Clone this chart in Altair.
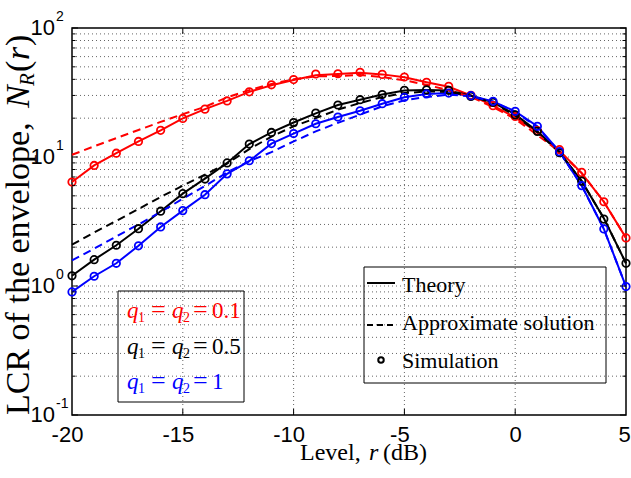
import altair as alt
import pandas as pd

# ---------------- data ----------------
levels = list(range(-20, 6))  # Level r (dB)

red_theory = [6.4, 8.6, 10.7, 13.2, 16.1, 19.9, 23.5, 27.2, 32.0, 36.0, 39.5, 43.0, 44.0,
              45.0, 43.7, 41.5, 38.0, 35.0, 30.0, 25.0, 20.3, 15.6, 11.2, 7.5, 4.5, 2.36]
red_approx = [10.4, 12.1, 14.0, 16.2, 18.7, 21.5, 24.5, 29.0, 33.0, 36.8, 40.0, 42.2, 42.5,
              43.2, 41.7, 39.3, 36.3, 32.9, 29.2, 24.4, 19.7, 14.8, 11.0, 7.5, 4.5, 2.36]
red_sim = [6.4, 8.6, 10.7, 13.2, 16.1, 19.9, 23.5, 27.2, 32.0, 36.3, 39.8, 44.0, 44.2,
           45.3, 43.7, 41.7, 37.9, 35.3, 30.1, 25.0, 20.6, 16.0, 11.4, 7.6, 4.5, 2.36]

black_theory = [1.2, 1.6, 2.07, 2.78, 3.8, 5.2, 6.8, 9.0, 12.6, 15.5, 18.5, 21.8, 25.3,
                27.8, 30.5, 32.8, 33.1, 32.8, 29.8, 26.5, 21.4, 15.8, 10.9, 6.5, 3.35, 1.5]
black_approx = [2.09, 2.6, 3.2, 3.95, 4.9, 6.0, 7.3, 8.9, 11.5, 14.4, 17.3, 20.0, 23.3,
                26.2, 29.2, 31.3, 32.2, 32.0, 29.8, 26.2, 21.0, 15.5, 10.9, 6.5, 3.35, 1.5]
black_sim = [1.2, 1.6, 2.07, 2.78, 3.8, 5.2, 6.75, 9.0, 12.6, 15.5, 18.5, 21.9, 25.3,
             27.8, 30.5, 32.9, 33.2, 32.9, 29.5, 26.5, 21.2, 15.8, 10.8, 6.5, 3.3, 1.5]

blue_theory = [0.9, 1.19, 1.5, 2.05, 2.87, 3.84, 5.1, 7.4, 9.3, 12.7, 15.2, 18.1, 20.4,
               22.8, 25.9, 29.0, 30.8, 31.3, 29.9, 27.0, 22.6, 17.3, 11.0, 6.0, 2.77, 0.99]
blue_approx = [1.58, 1.95, 2.42, 3.0, 3.75, 4.75, 5.95, 7.6, 9.3, 10.9, 13.2, 15.8, 18.4,
               21.3, 24.7, 27.5, 29.2, 30.4, 29.6, 26.8, 22.4, 17.0, 11.0, 6.0, 2.77, 0.99]
blue_sim = [0.9, 1.19, 1.5, 2.05, 2.87, 3.84, 5.1, 7.4, 9.35, 12.7, 15.2, 18.1, 20.4,
            22.8, 25.9, 29.0, 30.8, 31.3, 29.9, 27.0, 22.6, 17.3, 11.0, 6.0, 2.77, 0.99]

series_names = ["q1=q2=0.1", "q1=q2=0.5", "q1=q2=1"]
series_colors = ["#ff0000", "#000000", "#0000ff"]

x_tick_values = [-20, -15, -10, -5, 0, 5]
x_grid_values = [-15, -10, -5, 0]
y_major = [0.1, 1, 10, 100]
y_exponents = ["-1", "0", "1", "2"]
y_minor = [m * 10.0 ** e for e in (-1, 0, 1) for m in range(2, 10)]
y_grid_values = y_minor + [1, 10]

legend1_values = ["0.1", "0.5", "1"]
legend2_labels = ["Theory", "Approximate solution", "Simulation"]

# ---------------- build tables ----------------
def long_table(arrs):
    rows = []
    for name, arr in zip(series_names, arrs):
        for lv, v in zip(levels, arr):
            rows.append({"level": lv, "value": v, "series": name})
    return pd.DataFrame(rows)

df_theory = long_table([red_theory, black_theory, blue_theory])
df_approx = long_table([red_approx, black_approx, blue_approx])
df_sim = long_table([red_sim, black_sim, blue_sim])

W, H = 554, 387

xscale = alt.Scale(domain=[-20, 5], nice=False, zero=False)
yscale = alt.Scale(type="log", domain=[0.1, 100], nice=False)
cscale = alt.Scale(domain=series_names, range=series_colors)

xaxis = alt.Axis(
    values=x_tick_values, labelExpr="datum.value + ''", labelFont="Liberation Sans",
    labelFontSize=22, labelColor="black", labelPadding=9, ticks=False, tickSize=0,
    domain=False, grid=False, title=None, labelFlush=False, labelOverlap=False,
    labelOffset={"condition": [{"test": "datum.value < 0", "value": -5},
                               {"test": "datum.value == 5", "value": -2}], "value": 0},
)

X = alt.X("level:Q", scale=xscale, axis=xaxis)
Y = alt.Y("value:Q", scale=yscale, axis=None)
C = alt.Color("series:N", scale=cscale, legend=None)

layers = []

# grid
layers.append(
    alt.Chart(pd.DataFrame({"v": y_grid_values})).mark_rule(
        strokeDash=[1, 3], color="#666666", strokeWidth=1
    ).encode(y=alt.Y("v:Q", scale=yscale, axis=None), x=alt.value(0), x2=alt.value(W))
)
layers.append(
    alt.Chart(pd.DataFrame({"v": x_grid_values})).mark_rule(
        strokeDash=[1, 3], color="#666666", strokeWidth=1
    ).encode(x=alt.X("v:Q", scale=xscale, axis=xaxis), y=alt.value(0), y2=alt.value(H))
)

# curves
layers.append(alt.Chart(df_theory).mark_line(strokeWidth=2).encode(x=X, y=Y, color=C))
layers.append(alt.Chart(df_approx).mark_line(strokeWidth=2, strokeDash=[8, 5]).encode(x=X, y=Y, color=C))
layers.append(alt.Chart(df_sim).mark_point(shape="circle", filled=False, size=55, strokeWidth=1.8,
                                           opacity=1).encode(x=X, y=Y, color=C))

# ticks (inward)
def ytick_layer(vals, x0, x1):
    return alt.Chart(pd.DataFrame({"v": vals})).mark_rule(color="black", strokeWidth=1).encode(
        y=alt.Y("v:Q", scale=yscale, axis=None), x=alt.value(x0), x2=alt.value(x1))

layers.append(ytick_layer(y_major, 0, 6))
layers.append(ytick_layer(y_major, W - 6, W))
layers.append(ytick_layer(y_minor, 0, 3.5))
layers.append(ytick_layer(y_minor, W - 3.5, W))
for y0, y1 in ((H - 6, H), (0, 6)):
    layers.append(
        alt.Chart(pd.DataFrame({"v": x_grid_values})).mark_rule(color="black", strokeWidth=1).encode(
            x=alt.X("v:Q", scale=xscale, axis=xaxis), y=alt.value(y0), y2=alt.value(y1))
    )

# y tick labels 10^k
ylab = pd.DataFrame({"v": y_major, "e": y_exponents})
layers.append(
    alt.Chart(ylab).mark_text(align="right", baseline="middle", font="Liberation Sans",
                              fontSize=22, color="black").encode(
        y=alt.Y("v:Q", scale=yscale, axis=None), x=alt.value(-17), text=alt.value("10"))
)
layers.append(
    alt.Chart(ylab).mark_text(align="left", baseline="middle", font="Liberation Sans",
                              fontSize=14, color="black", dy=-11).encode(
        y=alt.Y("v:Q", scale=yscale, axis=None), x=alt.value(-16), text="e:N")
)

# generic text helper
def txt(s, x, y, size, font="Liberation Serif", style="normal", color="black",
        angle=0, align="left", baseline="alphabetic"):
    kw = dict(font=font, fontSize=size, fontStyle=style, color=color, align=align, baseline=baseline)
    if angle:
        kw["angle"] = angle
    return alt.Chart(pd.DataFrame({"t": [s]})).mark_text(**kw).encode(
        text="t:N", x=alt.value(x), y=alt.value(y))

# x title: Level, r (dB)
layers.append(txt("Level,", 228, 432, 24))
layers.append(txt("r", 297, 432, 24, style="italic"))
layers.append(txt("(dB)", 311, 432, 24))

# y title: LCR of the envelope, N_R(r)
YB = -43
layers.append(txt("LCR of the envelope,", YB, 387, 34, angle=270))
layers.append(txt("N", YB, 80, 34, style="italic", angle=270))
layers.append(txt("R", YB + 5, 58, 21, style="italic", angle=270))
layers.append(txt("(", YB, 44, 34, angle=270))
layers.append(txt("r", YB, 32, 34, style="italic", angle=270))
layers.append(txt(")", YB, 18, 34, angle=270))

# legend boxes
def box(x0, y0, x1, y1):
    return alt.Chart(pd.DataFrame({"a": [0]})).mark_rect(
        fillOpacity=0, fill="white", stroke="black", strokeWidth=1).encode(
        x=alt.value(x0), x2=alt.value(x1), y=alt.value(y0), y2=alt.value(y1))

layers.append(box(46, 263, 172, 374))
layers.append(box(292, 239, 534, 355))

# legend 1 text (q1 = q2 = value)
row_base = [290, 326, 361]
for val, col, yb in zip(legend1_values, series_colors, row_base):
    layers.append(txt("q", 55, yb, 23, style="italic", color=col))
    layers.append(txt("1", 66, yb + 4, 14, color=col))
    layers.append(txt("=", 79, yb, 26, color=col))
    layers.append(txt("q", 100, yb, 23, style="italic", color=col))
    layers.append(txt("2", 111, yb + 4, 14, color=col))
    layers.append(txt("=", 121, yb, 26, color=col))
    layers.append(txt(val, 140, yb, 23, color=col))

# legend 2 symbols and text
layers.append(alt.Chart(pd.DataFrame({"a": [0]})).mark_rule(color="black", strokeWidth=2).encode(
    x=alt.value(295), x2=alt.value(323), y=alt.value(255)))
layers.append(alt.Chart(pd.DataFrame({"a": [0]})).mark_rule(color="black", strokeWidth=2,
                                                          strokeDash=[6, 4]).encode(
    x=alt.value(295), x2=alt.value(323), y=alt.value(297)))
layers.append(alt.Chart(pd.DataFrame({"a": [0]})).mark_point(shape="circle", filled=False, size=30,
                                                           strokeWidth=2, color="black", opacity=1).encode(
    x=alt.value(309), y=alt.value(332)))
for lab, yb in zip(legend2_labels, [264, 302, 340]):
    layers.append(txt(lab, 330, yb, 22))

chart = alt.layer(*layers).properties(
    width=W, height=H,
    autosize=alt.AutoSizeParams(type="none"),
    padding={"left": 72, "top": 28, "right": 5, "bottom": 63},
    background="white",
).configure_view(stroke="black", strokeWidth=1.5)

chart.save("out.html", embed_options={"renderer": "svg", "actions": False})
